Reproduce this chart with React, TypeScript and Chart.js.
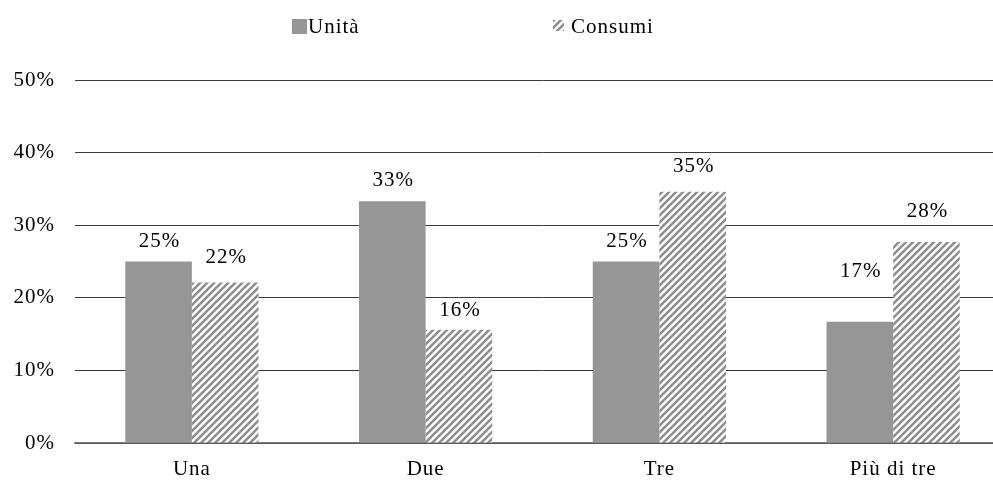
import React, { useEffect, useRef } from "react";
import { Chart, registerables } from "chart.js";
Chart.register(...registerables);

const categories = ["Una", "Due", "Tre", "Più di tre"];
const seriesNames = ["Unità", "Consumi"];
const unita = [25, 33.3, 25, 16.7];
const consumi = [22.1, 15.6, 34.6, 27.7];
const unitaLabels = ["25%", "33%", "25%", "17%"];
const consumiLabels = ["22%", "16%", "35%", "28%"];
const yMin = 0;
const yMax = 50;
const yStep = 10;

const FONT = "'Liberation Serif', 'Times New Roman', serif";
const FSIZE = 21;
const GRAY = "#969696";
const SPACING = "1px";

function makeHatch(): CanvasPattern | string {
  const c = document.createElement("canvas");
  const s = 7;
  c.width = s;
  c.height = s;
  const g = c.getContext("2d");
  if (!g) return GRAY;
  g.fillStyle = "#ffffff";
  g.fillRect(0, 0, s, s);
  g.strokeStyle = "#8e8e8e";
  g.lineWidth = 2.6;
  g.beginPath();
  g.moveTo(-1, s + 1);
  g.lineTo(s + 1, -1);
  g.moveTo(-1, 1);
  g.lineTo(1, -1);
  g.moveTo(s - 1, s + 1);
  g.lineTo(s + 1, s - 1);
  g.stroke();
  const p = g.createPattern(c, "repeat");
  return p || GRAY;
}

export default function App() {
  const ref = useRef<HTMLCanvasElement | null>(null);
  useEffect(() => {
    if (!ref.current) return;
    const hatch = makeHatch();
    const valueLabels = [unitaLabels, consumiLabels];
    const lifts = [
      [20, 21, 20, 50],
      [25, 19, 25, 30],
    ];
    const spacingPlugin = {
      id: "letterSpacing",
      beforeInit(chart: any) {
        (chart.ctx as any).letterSpacing = SPACING;
      },
      beforeUpdate(chart: any) {
        (chart.ctx as any).letterSpacing = SPACING;
      },
      beforeDraw(chart: any) {
        (chart.ctx as any).letterSpacing = SPACING;
      },
    };
    const labelsPlugin = {
      id: "valueLabels",
      afterDatasetsDraw(chart: any) {
        const ctx = chart.ctx;
        ctx.save();
        ctx.letterSpacing = SPACING;
        ctx.fillStyle = "#000";
        ctx.font = `${FSIZE}px ${FONT}`;
        ctx.textAlign = "center";
        ctx.textBaseline = "middle";
        chart.data.datasets.forEach((_: any, di: number) => {
          const meta = chart.getDatasetMeta(di);
          meta.data.forEach((el: any, i: number) => {
            ctx.fillText(valueLabels[di][i], el.x + 1, el.y - lifts[di][i]);
          });
        });
        ctx.restore();
      },
    };
    const legendPlugin = {
      id: "customLegend",
      afterDraw(chart: any) {
        const ctx = chart.ctx;
        ctx.save();
        ctx.letterSpacing = SPACING;
        ctx.font = `${FSIZE}px ${FONT}`;
        ctx.textBaseline = "middle";
        ctx.textAlign = "left";
        const ds = chart.data.datasets;
        ctx.fillStyle = ds[0].backgroundColor;
        ctx.fillRect(292, 19, 15, 15);
        ctx.fillStyle = "#000";
        ctx.fillText(ds[0].label, 308, 27);
        ctx.fillStyle = ds[1].backgroundColor;
        ctx.fillRect(553, 20, 11, 11);
        ctx.fillStyle = "#000";
        ctx.fillText(ds[1].label, 571, 27);
        ctx.restore();
      },
    };
    const chart = new Chart(ref.current, {
      type: "bar",
      data: {
        labels: categories,
        datasets: [
          {
            label: seriesNames[0],
            data: unita,
            backgroundColor: GRAY,
            borderWidth: 0,
          },
          {
            label: seriesNames[1],
            data: consumi,
            backgroundColor: hatch as any,
            borderWidth: 0,
          },
        ],
      },
      options: {
        animation: false,
        responsive: true,
        maintainAspectRatio: false,
        layout: { padding: { top: 80, right: 5, bottom: 0, left: 0 } },
        datasets: { bar: { barPercentage: 1, categoryPercentage: 0.57 } },
        plugins: {
          legend: { display: false },
          tooltip: { enabled: false },
        },
        scales: {
          x: {
            grid: { display: false },
            border: { display: true, color: "#7a7a7a", width: 1.5 },
            ticks: { color: "#000", font: { family: FONT, size: FSIZE }, padding: 6 },
            afterFit: (s: any) => {
              s.height = 45;
            },
          },
          y: {
            min: yMin,
            max: yMax,
            ticks: {
              stepSize: yStep,
              color: "#000",
              font: { family: FONT, size: FSIZE },
              padding: 20,
              callback: (v: any) => v + "%",
            },
            grid: { color: "#3a3a3a", lineWidth: 1, drawTicks: false },
            border: { display: false },
            afterFit: (s: any) => {
              s.width = 75;
            },
          },
        },
      },
      plugins: [spacingPlugin, labelsPlugin, legendPlugin],
    });
    return () => chart.destroy();
  }, []);
  return (
    <div
      style={{
        position: "fixed",
        left: 0,
        top: 0,
        width: 993,
        height: 488,
        overflow: "hidden",
        background: "#fff",
      }}
    >
      <div style={{ position: "relative", width: 1015, height: 488 }}>
        <canvas ref={ref} />
      </div>
    </div>
  );
}
